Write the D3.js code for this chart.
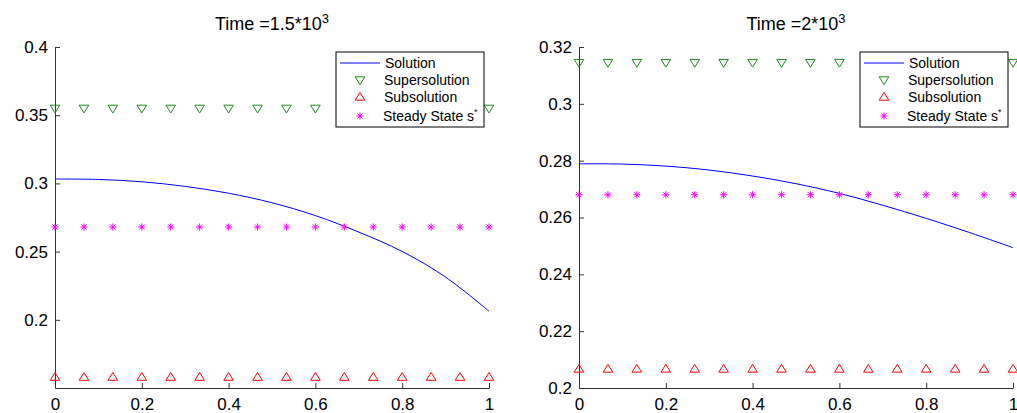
<!DOCTYPE html>
<html>
<head>
<meta charset="utf-8">
<script src="https://cdn.jsdelivr.net/npm/d3@7"></script>
<style>
  body { margin: 0; background: #fff; }
  svg { font-family: "Liberation Sans", Arial, Helvetica, sans-serif; }
</style>
</head>
<body>
<div id="chart"></div>
<script>
const width = 1017;
const height = 413;

// Data
const timeLabels = ['1.5', '2'];
const markerX = [0, 0.0667, 0.1333, 0.2, 0.2667, 0.3333, 0.4, 0.4667, 0.5333, 0.6,
  0.6667, 0.7333, 0.8, 0.8667, 0.9333, 1];
const solutionX = [0, 0.1, 0.2, 0.3, 0.4, 0.5, 0.6, 0.7, 0.8, 0.9, 1];
const solutionLeft = [0.3032, 0.3029, 0.3012, 0.2978, 0.2928, 0.2858, 0.2764, 0.2643, 0.2501, 0.2313, 0.2063];
const solutionRight = [0.2789, 0.2788, 0.2781, 0.2767, 0.2746, 0.2719, 0.2685, 0.2643, 0.2597, 0.2547, 0.2494];
const supersolution = [0.355, 0.3145];
const subsolution = [0.158, 0.2067];
const steadyState = [0.268, 0.268];
const yDomains = [[0.15, 0.4], [0.2, 0.32]];
const yTicksLeft = [0.2, 0.25, 0.3, 0.35, 0.4];
const yTicksRight = [0.2, 0.22, 0.24, 0.26, 0.28, 0.3, 0.32];
const xTicks = [0, 0.2, 0.4, 0.6, 0.8, 1];
const legendLabels = ['Solution', 'Supersolution', 'Subsolution', 'Steady State s'];

// Layout (pixels)
const plotTop = 47;
const plotBottom = 388;
const plotLefts = [55, 579];
const plotWidth = 434;

const colors = {
  solution: '#0000ff',
  super: '#1a8a1a',
  sub: '#ff0000',
  steady: '#ff00ff'
};

const panels = [0, 1].map(i => ({
  title: timeLabels[i],
  solution: i === 0 ? solutionLeft : solutionRight,
  sup: supersolution[i],
  sub: subsolution[i],
  steady: steadyState[i],
  yDomain: yDomains[i],
  yTicks: i === 0 ? yTicksLeft : yTicksRight,
  left: plotLefts[i]
}));

const svg = d3.select('#chart').append('svg')
  .attr('width', width)
  .attr('height', height);

// marker shapes
const triDown = 'M-4.8,-3.2L4.8,-3.2L0,4.6Z';
const triUp = 'M-4.8,3.2L4.8,3.2L0,-4.6Z';
const star = 'M-3.6,0L3.6,0M0,-3.6L0,3.6M-2.6,-2.6L2.6,2.6M-2.6,2.6L2.6,-2.6';

function drawMarker (g, path, color, x, y) {
  g.append('path')
    .attr('d', path)
    .attr('transform', `translate(${x},${y})`)
    .attr('fill', 'none')
    .attr('stroke', color)
    .attr('stroke-width', 1);
}

panels.forEach(p => {
  const x = d3.scaleLinear().domain([0, 1]).range([0, plotWidth]);
  const y = d3.scaleLinear().domain(p.yDomain).range([plotBottom - plotTop, 0]);

  const g = svg.append('g')
    .attr('transform', `translate(${p.left}, ${plotTop})`);

  // axes, ticks pointing inward
  const yAxis = d3.axisLeft(y)
    .tickValues(p.yTicks)
    .tickFormat(d => String(+d.toFixed(2)))
    .tickSizeInner(-5)
    .tickSizeOuter(0)
    .tickPadding(7);

  const xAxis = d3.axisBottom(x)
    .tickValues(xTicks)
    .tickFormat(d => String(+d.toFixed(1)))
    .tickSizeInner(-5)
    .tickSizeOuter(0)
    .tickPadding(10);

  g.append('g')
    .attr('class', 'axis')
    .call(yAxis);

  g.append('g')
    .attr('class', 'axis')
    .attr('transform', `translate(0, ${plotBottom - plotTop})`)
    .call(xAxis);

  g.selectAll('.axis path, .axis line').attr('stroke', '#333').attr('stroke-width', 1);
  g.selectAll('.axis text').attr('font-size', 17).attr('fill', '#000')
    .attr('font-family', '"Liberation Sans", Arial, sans-serif');

  // solution curve
  const line = d3.line()
    .x((d, i) => x(solutionX[i]))
    .y(d => y(d))
    .curve(d3.curveCatmullRom);

  g.append('path')
    .datum(p.solution)
    .attr('d', line)
    .attr('fill', 'none')
    .attr('stroke', colors.solution)
    .attr('stroke-width', 1);

  markerX.forEach(mx => {
    drawMarker(g, triDown, colors.super, x(mx), y(p.sup));
    drawMarker(g, triUp, colors.sub, x(mx), y(p.sub));
    drawMarker(g, star, colors.steady, x(mx), y(p.steady));
  });

  // title
  const title = svg.append('text')
    .attr('x', p.left + plotWidth / 2)
    .attr('y', 30)
    .attr('text-anchor', 'middle')
    .attr('font-size', 18)
    .text('Time =' + p.title + '*10');
  title.append('tspan')
    .attr('dy', -7)
    .attr('font-size', 13)
    .text('3');

  // legend
  const lx = p.left + 281;
  const ly = 52;
  const lg = svg.append('g').attr('transform', `translate(${lx}, ${ly})`);
  lg.append('rect')
    .attr('width', 148)
    .attr('height', 75)
    .attr('fill', '#fff')
    .attr('stroke', '#000')
    .attr('stroke-width', 1);

  const rowY = [11, 28, 45, 64];
  lg.append('line')
    .attr('x1', 4).attr('x2', 44)
    .attr('y1', rowY[0]).attr('y2', rowY[0])
    .attr('stroke', colors.solution)
    .attr('stroke-width', 1);
  drawMarker(lg, triDown, colors.super, 24, rowY[1]);
  drawMarker(lg, triUp, colors.sub, 24, rowY[2]);
  drawMarker(lg, star, colors.steady, 24, rowY[3]);

  legendLabels.forEach((label, i) => {
    const t = lg.append('text')
      .attr('x', i === 0 ? 49 : (i === 3 ? 47 : 48))
      .attr('y', rowY[i])
      .attr('dy', '0.35em')
      .attr('font-size', 14)
      .text(label);
    if (i === 3) {
      t.append('tspan')
        .attr('dy', -6)
        .attr('font-size', 9)
        .text('*');
    }
  });
});
</script>
</body>
</html>
